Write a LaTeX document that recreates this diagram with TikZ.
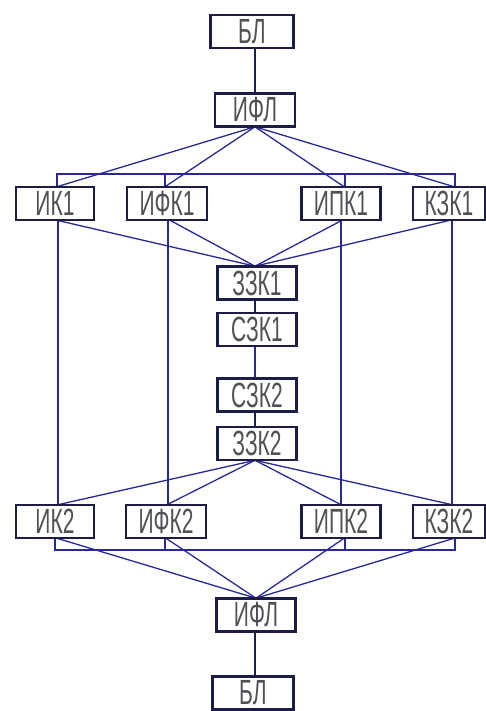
\documentclass[tikz,border=0pt]{standalone}
\usepackage{fontspec}
\setmainfont{Liberation Sans}[FakeStretch=0.6]
\begin{document}
\begin{tikzpicture}[x=1pt,y=-1pt,
  bx/.style={draw={rgb,255:red,28;green,28;blue,70}, line width=1.6pt, fill=white,
    minimum width=#1, minimum height=32pt, inner sep=0pt,
    font=\fontsize{35}{35}\selectfont, text={rgb,255:red,80;green,80;blue,85}},
  bx/.default=78pt,
  ln/.style={draw={rgb,255:red,40;green,40;blue,150}, line width=1.3pt},
  dk/.style={draw={rgb,255:red,30;green,30;blue,80}, line width=1.3pt}]
\useasboundingbox (0,0) rectangle (485,711);
% middle column
\node[bx=82pt] (bl1) at (252,31.5) {БЛ};
\node[bx=79pt] (ifl1) at (255,110) {ИФЛ};
\node[bx] (zzk1) at (257,283) {ЗЗК1};
\node[bx] (szk1) at (257,329.5) {СЗК1};
\node[bx] (szk2) at (257,395) {СЗК2};
\node[bx] (zzk2) at (257,443.5) {ЗЗК2};
\node[bx] (ifl2) at (256,615) {ИФЛ};
\node[bx=80pt] (bl2) at (253,693) {БЛ};
% row 1
\node[bx=77pt] (ik1) at (55,203.5) {ИК1};
\node[bx=79pt] (ifk1) at (167,203.5) {ИФК1};
\node[bx=78pt] (ipk1) at (341,203.5) {ИПК1};
\node[bx=71pt] (kzk1) at (449,203.5) {КЗК1};
% row 2
\node[bx=77pt] (ik2) at (55,521.5) {ИК2};
\node[bx=79pt] (ifk2) at (166,521.5) {ИФК2};
\node[bx=78pt] (ipk2) at (341,521.5) {ИПК2};
\node[bx=71pt] (kzk2) at (449,521.5) {КЗК2};
\coordinate (bar1) at (0,174);
\coordinate (bar2) at (0,550);
% connectors (drawn, then boxes redrawn on top)
\path[dk] (ifl1.north) -- (ifl1.north |- bl1.south);
\path[dk] ([xshift=-1pt]ifl2.south) -- ([xshift=-1pt]ifl2.south |- bl2.north);
\path[dk] ([xshift=-2pt]zzk1.south) -- ([xshift=-2pt]szk1.north);
\path[ln] ([xshift=-2pt]szk1.south) -- ([xshift=-2pt]szk2.north);
\path[dk] ([xshift=-2pt]szk2.south) -- ([xshift=-2pt]zzk2.north);
% top bar with ticks
\path[ln] ([xshift=2pt]ik1.north) -- ([xshift=2pt]ik1.north |- bar1) -- ([xshift=6pt]kzk1.north |- bar1) -- ([xshift=6pt]kzk1.north);
\path[ln] ([xshift=-2pt]ifk1.north) -- ([xshift=-2pt]ifk1.north |- bar1);
\path[ln] ([xshift=4pt]ipk1.north) -- ([xshift=4pt]ipk1.north |- bar1);
% fan from ИФЛ to row 1
\foreach \n/\s in {ik1/2, ifk1/-2, ipk1/3, kzk1/5}
  \path[ln] (ifl1.south) -- ([xshift=\s pt]\n.north);
% row 1 to ЗЗК1
\foreach \n/\s in {ik1/2, ifk1/3, ipk1/1, kzk1/1}
  \path[ln] ([xshift=\s pt]\n.south) -- ([xshift=-2pt]zzk1.north);
% verticals row 1 to row 2
\path[ln] ([xshift=3pt]ik1.south) -- ([xshift=3pt]ik2.north);
\path[ln] ([xshift=1pt]ifk1.south) -- ([xshift=1pt]ifk1.south |- ifk2.north);
\path[ln] ([xshift=0pt]ipk1.south) -- ([xshift=0pt]ipk2.north);
\path[ln] ([xshift=3pt]kzk1.south) -- ([xshift=3pt]kzk2.north);
% fan from ЗЗК2 to row 2
\foreach \n/\s in {ik2/3, ifk2/1, ipk2/0, kzk2/3}
  \path[ln] ([xshift=-2pt]zzk2.south) -- ([xshift=\s pt]\n.north);
% bottom bar with ticks
\path[ln] (ik2.south) -- (ik2.south |- bar2) -- ([xshift=6pt]kzk2.south |- bar2) -- ([xshift=6pt]kzk2.south);
\path[ln] ([xshift=-1pt]ifk2.south) -- ([xshift=-1pt]ifk2.south |- bar2);
\path[ln] ([xshift=4pt]ipk2.south) -- ([xshift=4pt]ipk2.south |- bar2);
% row 2 to ИФЛ
\foreach \n/\s in {ik2/2, ifk2/0, ipk2/3, kzk2/5}
  \path[ln] ([xshift=\s pt]\n.south) -- (ifl2.north);
% redraw box outlines on top
\foreach \n in {bl1,ifl1,zzk1,szk1,szk2,zzk2,ifl2,bl2,ik1,ifk1,ipk1,kzk1,ik2,ifk2,ipk2,kzk2}
  \draw[draw={rgb,255:red,28;green,28;blue,70}, line width=1.6pt] (\n.north west) rectangle (\n.south east);
\end{tikzpicture}
\end{document}
